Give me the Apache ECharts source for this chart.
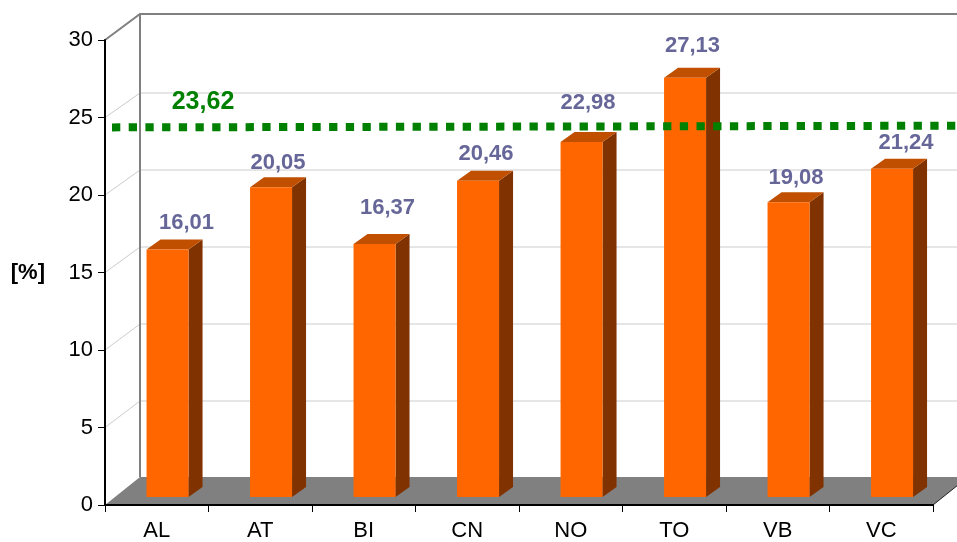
<!DOCTYPE html>
<html><head><meta charset="utf-8">
<script src="https://cdn.jsdelivr.net/npm/echarts@6/dist/echarts.min.js"></script>
<style>html,body{margin:0;padding:0;background:#fff}#c{width:957px;height:542px}</style>
</head><body><div id="c"></div>
<script>
const categories = ['AL','AT','BI','CN','NO','TO','VB','VC'];
const barValues = [16.01,20.05,16.37,20.46,22.98,27.13,19.08,21.24];
const barLabels = ['16,01','20,05','16,37','20,46','22,98','27,13','19,08','21,24'];
const yTicks = [0,5,10,15,20,25,30];
const refValue = 23.62;
const refLabel = '23,62';

// styling / placement constants (not data)
const FONT = '"Liberation Sans", Arial, sans-serif';
const labelShift = [[19,-27],[7,-24],[13,-36],[8,-27],[6.5,-39],[7.5,-31.5],[7.5,-24],[14,-26]];
const wall = {dx:35, bottomDy:-28};
const plane = {dx:10.8, dy:-8, scale:0.997};
const bar = {width:42, dx:14, dy:-10};
const refStyle = {dy:-11.5, tilt:-1.7};
const GRAY = '#808080';

function backY(y, y0, y30){ // map a front-plane y to the back wall
  return 478 - (y0 - y) * (478 - 16) / (y0 - y30);
}
function renderWall(params, api){
  const v = api.value(1);
  const p = api.coord([0, v]);
  const band = api.size([1,0])[0];
  const x0 = p[0] - band/2, x1 = x0 + wall.dx;
  const y0 = api.coord([0,0])[1], y30 = api.coord([0,30])[1];
  const yb = v === 30 ? 14 : backY(p[1], y0, y30);
  const isTop = v === 30;
  return {type:'polyline', silent:true, shape:{points:[[x0,p[1]],[x1,yb],[1000,yb]]},
    style:{fill:null, stroke:isTop?GRAY:'#cccccc', lineWidth:isTop?2:1}};
}
function renderFrame(params, api){
  const p0 = api.coord([0,0]);
  const band = api.size([1,0])[0];
  const x0 = p0[0]-band/2, x1 = x0+wall.dx;
  const xEnd = api.coord([7,0])[0]+band/2;
  const yB = p0[1]+wall.bottomDy;
  return {type:'group', children:[
    {type:'line', shape:{x1:x1,y1:14,x2:x1,y2:yB}, style:{stroke:GRAY,lineWidth:2}},
    {type:'polygon', shape:{points:[[x0,p0[1]],[xEnd,p0[1]],[xEnd+wall.dx,yB],[x1,yB]]}, style:{fill:GRAY}},
    {type:'line', shape:{x1:xEnd,y1:p0[1],x2:xEnd+wall.dx,y2:yB}, style:{stroke:'#222',lineWidth:1}}
  ]};
}
function renderBar(params, api){
  const i = params.dataIndex;
  const top = api.coord([api.value(0), api.value(1)]);
  const base = api.coord([api.value(0), 0]);
  const xl = top[0]+plane.dx-bar.width/2, xr = xl+bar.width;
  const yb = base[1]+plane.dy, yt = yb-(base[1]-top[1])*plane.scale;
  const dx = bar.dx, dy = bar.dy;
  return {type:'group', children:[
    {type:'polygon', shape:{points:[[xr,yt],[xr+dx,yt+dy],[xr+dx,yb+dy],[xr,yb]]}, style:{fill:'#803300'}},
    {type:'polygon', shape:{points:[[xl,yt],[xl+dx,yt+dy],[xr+dx,yt+dy],[xr,yt]]}, style:{fill:'#C04F00'}},
    {type:'rect', shape:{x:xl,y:yt,width:bar.width,height:yb-yt}, style:{fill:'#FF6600'}},
    {type:'text', style:{text:barLabels[i], x:xl+bar.width/2+labelShift[i][0], y:yt+labelShift[i][1],
      align:'center', verticalAlign:'middle', fill:'#666699', font:'bold 22px '+FONT}}
  ]};
}
function renderRef(params, api){
  const p = api.coord([0, api.value(1)]);
  const band = api.size([1,0])[0];
  const x0 = p[0]-band/2;
  const y = p[1]+refStyle.dy;
  return {type:'group', children:[
    {type:'line', shape:{x1:x0+7,y1:y,x2:970,y2:y+refStyle.tilt},
      style:{stroke:'#008000',lineWidth:8,lineDash:[8.3,8.4]}},
    {type:'text', style:{text:refLabel, x:x0+98, y:y-25.5, align:'center', verticalAlign:'middle',
      fill:'#008000', font:'bold 25px '+FONT}}
  ]};
}
const chart = echarts.init(document.getElementById('c'), null, {renderer:'canvas'});
chart.setOption({
  animation:false,
  backgroundColor:'#ffffff',
  grid:{left:105, right:24, top:40, bottom:36, containLabel:false},
  xAxis:{type:'category', data:categories, z:10,
    axisLine:{lineStyle:{color:'#000',width:2}},
    axisTick:{show:true, length:7, alignWithLabel:false, lineStyle:{color:'#000',width:1}},
    axisLabel:{color:'#000', fontFamily:FONT, fontSize:22, margin:15, interval:0},
    splitLine:{show:false}},
  yAxis:{type:'value', min:0, max:30, interval:5, z:10,
    name:'[%]', nameLocation:'middle', nameGap:60, nameRotate:0,
    nameTextStyle:{color:'#000', fontFamily:FONT, fontSize:22, fontWeight:'bold', padding:[8,0,0,0]},
    axisLine:{show:true, lineStyle:{color:'#000',width:2}},
    axisTick:{show:true, length:7, lineStyle:{color:'#000',width:1}},
    axisLabel:{color:'#000', fontFamily:FONT, fontSize:22, margin:12, padding:[0,0,5,0]},
    splitLine:{show:false}},
  series:[
    {type:'custom', name:'wall', z:1, renderItem:renderWall, silent:true, clip:false,
      data:yTicks.filter(v=>v>0).map(v=>[categories[0],v]), encode:{x:0,y:1}},
    {type:'custom', name:'frame', z:2, renderItem:renderFrame, silent:true, clip:false,
      data:[[categories[0],0]], encode:{x:0,y:1}},
    {type:'custom', name:'values', z:3, renderItem:renderBar, silent:true, clip:false,
      data:barValues.map((v,i)=>[categories[i],v]), encode:{x:0,y:1}},
    {type:'custom', name:'reference', z:4, renderItem:renderRef, silent:true, clip:false,
      data:[[categories[0],refValue]], encode:{x:0,y:1}}
  ]
});
</script></body></html>
